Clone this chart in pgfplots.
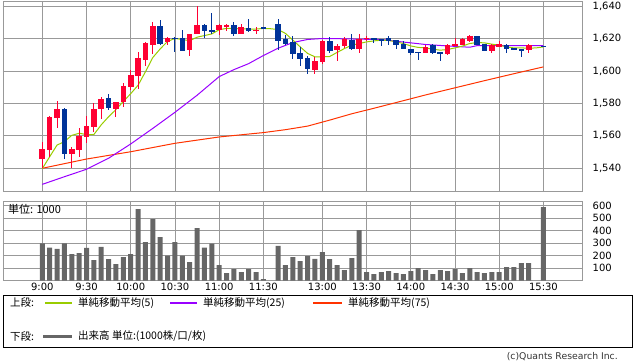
\documentclass[border=0pt]{standalone}
\usepackage{pgfplots}
\usepackage{pgfplotstable}
\pgfplotsset{compat=1.18}
\usepackage{fontspec}
\setmainfont{DejaVu Sans}
\newfontfamily\cjk{Noto Sans CJK JP}
\definecolor{upred}{HTML}{FF0033}
\definecolor{downblue}{HTML}{003399}
\definecolor{mafive}{HTML}{99CC00}
\definecolor{matwfive}{HTML}{9900FF}
\definecolor{masvfive}{HTML}{FF3300}
\definecolor{volgray}{HTML}{666666}
\definecolor{gridgray}{HTML}{999999}

\pgfplotstableread{
i o h l c
0 1545.7 1556.4 1540.0 1551.7
1 1551.3 1572.0 1547.1 1571.8
2 1570.8 1581.4 1564.6 1576.5
4 1548.8 1553.3 1540.4 1551.9
5 1551.3 1565.0 1546.8 1559.9
6 1559.4 1572.2 1555.8 1566.0
7 1565.6 1580.0 1562.5 1576.5
8 1576.3 1584.0 1570.3 1582.6
10 1576.7 1581.0 1571.8 1580.6
11 1580.6 1592.3 1577.5 1590.6
12 1589.8 1600.5 1588.2 1597.4
13 1596.8 1611.4 1588.6 1608.1
14 1606.6 1617.9 1603.1 1617.3
15 1615.9 1630.2 1610.3 1627.6
17 1617.9 1621.0 1615.9 1620.0
20 1612.8 1622.6 1609.3 1622.6
21 1622.5 1640.1 1622.5 1628.2
24 1625.5 1628.8 1622.0 1628.2
25 1627.1 1629.2 1624.7 1628.6
27 1622.6 1629.2 1622.6 1627.1
29 1624.7 1626.8 1622.5 1625.5
37 1600.5 1608.3 1598.0 1606.0
38 1605.6 1619.0 1604.5 1618.5
40 1612.8 1616.9 1606.2 1615.4
41 1615.4 1620.7 1614.3 1619.6
43 1613.4 1622.6 1610.8 1619.4
44 1619.4 1621.8 1618.3 1620.6
52 1611.1 1615.9 1611.1 1615.0
55 1610.3 1616.9 1609.7 1615.9
56 1615.3 1620.0 1615.3 1616.5
57 1615.9 1620.0 1615.9 1619.6
58 1618.5 1622.0 1617.9 1621.4
61 1612.2 1616.9 1610.8 1615.9
62 1614.8 1618.3 1614.8 1616.5
66 1613.2 1616.5 1610.8 1615.9
}\upcandles

\pgfplotstableread{
i o h l c
3 1576.5 1576.9 1545.7 1548.8
9 1583.1 1585.7 1575.9 1576.9
16 1627.6 1631.3 1615.9 1616.3
18 1620.5 1621.0 1611.4 1619.5
19 1620.0 1625.1 1612.4 1612.4
22 1628.6 1629.2 1620.0 1624.7
23 1625.1 1635.8 1622.5 1624.5
26 1628.2 1630.2 1621.6 1622.6
28 1626.2 1632.3 1623.7 1624.5
30 1627.0 1627.2 1626.3 1626.4
32 1628.8 1631.9 1612.8 1618.5
33 1619.6 1622.0 1615.9 1616.5
34 1617.9 1621.4 1607.3 1610.3
35 1611.1 1614.8 1603.0 1607.1
36 1608.1 1609.1 1598.0 1601.1
39 1618.3 1620.7 1611.2 1612.4
42 1619.0 1622.6 1612.8 1613.4
45 1620.2 1620.6 1617.5 1619.4
46 1619.4 1619.4 1615.4 1618.8
47 1620.5 1621.5 1616.0 1618.5
48 1619.0 1619.0 1613.4 1615.9
49 1616.5 1618.6 1613.4 1613.4
50 1613.8 1613.8 1609.7 1610.8
51 1611.9 1611.9 1606.6 1611.3
53 1615.9 1616.5 1610.5 1611.1
54 1611.8 1611.8 1606.2 1610.3
59 1621.4 1621.4 1615.9 1616.3
60 1616.5 1616.9 1612.2 1612.2
63 1615.9 1616.5 1611.1 1613.8
64 1613.8 1614.3 1613.2 1613.2
65 1613.2 1613.8 1608.7 1612.6
68 1615.6 1615.6 1615.0 1615.0
}\downcandles

\pgfplotstableread{
i v
0 1539.8
1 1547.1
2 1554.3
3 1556.4
4 1560.3
5 1561.6
6 1560.8
7 1560.8
8 1566.8
9 1571.8
10 1576.2
11 1581.2
12 1586.0
13 1591.2
14 1599.5
15 1608.3
16 1613.6
17 1618.2
18 1620.0
19 1619.4
20 1618.6
21 1620.8
22 1621.8
23 1622.8
24 1625.4
25 1626.2
26 1626.2
27 1626.0
28 1625.8
29 1625.8
30 1626.2
31 1626.0
32 1625.5
33 1623.1
34 1619.0
35 1614.8
36 1610.8
37 1608.7
38 1608.7
39 1608.9
40 1611.4
41 1613.8
42 1615.9
43 1616.9
44 1617.9
45 1618.5
46 1619.0
47 1618.8
48 1617.9
49 1616.9
50 1615.4
51 1614.5
52 1614.2
53 1613.4
54 1612.8
55 1613.2
56 1614.2
57 1615.3
58 1616.9
59 1617.5
60 1617.3
61 1616.5
62 1615.9
63 1614.8
64 1614.2
65 1614.2
66 1614.0
67 1614.2
68 1614.8
}\mafivetab

\pgfplotstableread{
i v
0 1530.1
3 1534.8
6 1539.4
9 1546.2
12 1555.0
15 1564.6
18 1574.5
21 1585.0
24 1596.5
26 1600.8
28 1604.5
30 1609.5
32 1614.0
34 1617.5
36 1619.4
38 1620.0
41 1619.8
44 1619.5
46 1619.4
48 1618.3
50 1617.3
52 1616.3
55 1615.4
58 1614.6
59 1615.6
68 1615.6
}\matwfivetab

\pgfplotstableread{
i v
0 1540.0
6 1545.7
12 1550.2
18 1555.4
24 1559.3
30 1562.0
33 1563.8
36 1566.0
39 1569.7
42 1573.6
45 1577.0
48 1580.5
52 1585.2
56 1589.6
60 1594.0
64 1598.3
68 1602.5
}\masvfivetab

\pgfplotstableread{
i v
0 298
1 263
2 253
3 298
4 212
5 220
6 261
7 164
8 269
9 172
10 132
11 188
12 212
13 573
14 309
15 493
16 349
17 199
18 309
19 199
20 148
21 421
22 263
23 295
24 124
25 60
26 92
27 68
28 92
29 68
30 12
32 277
33 124
34 188
35 156
36 196
37 174
38 228
39 172
40 124
41 84
42 180
43 405
44 68
45 52
46 68
47 76
48 60
49 52
50 76
51 100
52 84
53 52
54 84
55 76
56 92
57 60
58 100
59 68
60 60
61 68
62 68
63 108
64 108
65 140
66 140
68 589
}\voltab

\pgfplotsset{
  panel/.style={
    scale only axis, anchor=south west, width=579pt,
    xmin=-5.33, xmax=73.23,
    xtick={0,6,12,18,24,30,38,44,50,56,62,68},
    yticklabel pos=right,
    grid=major, major grid style={draw=gridgray, line width=0.8pt},
    axis line style={draw=gridgray, line width=0.8pt},
    major tick length=0pt,
    yticklabel style={anchor=west, inner sep=0pt, xshift=10.5pt, text=black,
      font=\fontsize{10}{12}\selectfont,
      /pgf/number format/1000 sep={,}, /pgf/number format/assume math mode=true},
    xticklabel style={anchor=north, inner sep=0pt, yshift=-2.5pt, text=black,
      font=\fontsize{10}{12}\selectfont},
  },
  wick/.style={forget plot, draw=none, no markers,
    error bars/.cd, y dir=both, y explicit, error mark=none,
    error bar style={line width=1pt, draw=#1, solid}},
  body/.style={forget plot, draw=none, no markers,
    error bars/.cd, y dir=both, y explicit, error mark=none,
    error bar style={line width=5.6pt, draw=#1, solid}},
}

\begin{document}
\begin{tikzpicture}
\useasboundingbox (0,0) rectangle (638pt,-362pt);

\begin{axis}[panel, at={(3pt,-191pt)}, height=190pt,
  ymin=1526.0, ymax=1643.1, ytick={1540,1560,1580,1600,1620,1640},
  xticklabels={}]
\addplot[masvfive, line width=1pt] table[x=i, y=v] {\masvfivetab};
\addplot[matwfive, line width=1pt] table[x=i, y=v] {\matwfivetab};
\addplot[mafive, line width=1pt] table[x=i, y=v] {\mafivetab};
\addplot[wick=upred] table[x=i, y expr={(\thisrow{h}+\thisrow{l})/2}, y error expr={(\thisrow{h}-\thisrow{l})/2}] {\upcandles};
\addplot[body=upred] table[x=i, y expr={(\thisrow{o}+\thisrow{c})/2}, y error expr={max(abs(\thisrow{o}-\thisrow{c})/2,0.35)}] {\upcandles};
\addplot[wick=downblue] table[x=i, y expr={(\thisrow{h}+\thisrow{l})/2}, y error expr={(\thisrow{h}-\thisrow{l})/2}] {\downcandles};
\addplot[body=downblue] table[x=i, y expr={(\thisrow{o}+\thisrow{c})/2}, y error expr={max(abs(\thisrow{o}-\thisrow{c})/2,0.35)}] {\downcandles};
\end{axis}

\begin{axis}[panel, at={(3pt,-280.5pt)}, height=79pt,
  ymin=0, ymax=634, ytick={100,200,300,400,500,600},
  xticklabels={9:00,9:30,10:00,10:30,11:00,11:30,13:00,13:30,14:00,14:30,15:00,15:30}]
\addplot[ybar, bar width=5pt, fill=volgray, draw=none] table[x=i, y=v] {\voltab};
\end{axis}

\node[anchor=west, inner sep=0pt, font=\cjk\fontsize{11}{12}\selectfont] at (8pt,-209pt) {単位: 1000};

\draw[draw=black, line width=0.8pt] (3.5pt,-295pt) rectangle (632.5pt,-347pt);
\draw[draw=mafive, line width=1.2pt] (45pt,-303pt) -- (72pt,-303pt);
\draw[draw=matwfive, line width=1.2pt] (170pt,-303pt) -- (197pt,-303pt);
\draw[draw=masvfive, line width=1.2pt] (313pt,-303pt) -- (342pt,-303pt);
\draw[draw=volgray, line width=3pt] (43pt,-336.5pt) -- (72pt,-336.5pt);
\begin{scope}[every node/.style={anchor=west, inner sep=0pt, font=\cjk\fontsize{10.5}{12}\selectfont}]
\node at (10pt,-303pt) {上段:};
\node at (78pt,-303pt) {単純移動平均(5)};
\node at (203pt,-303pt) {単純移動平均(25)};
\node at (348pt,-303pt) {単純移動平均(75)};
\node at (10pt,-336.5pt) {下段:};
\node at (78pt,-336.5pt) {出来高 単位:(1000株/口/枚)};
\end{scope}
\node[anchor=east, inner sep=0pt, font=\fontsize{9.3}{11}\selectfont, text=black!80] at (618pt,-357pt) {(c)Quants Research Inc.};
\end{tikzpicture}
\end{document}
